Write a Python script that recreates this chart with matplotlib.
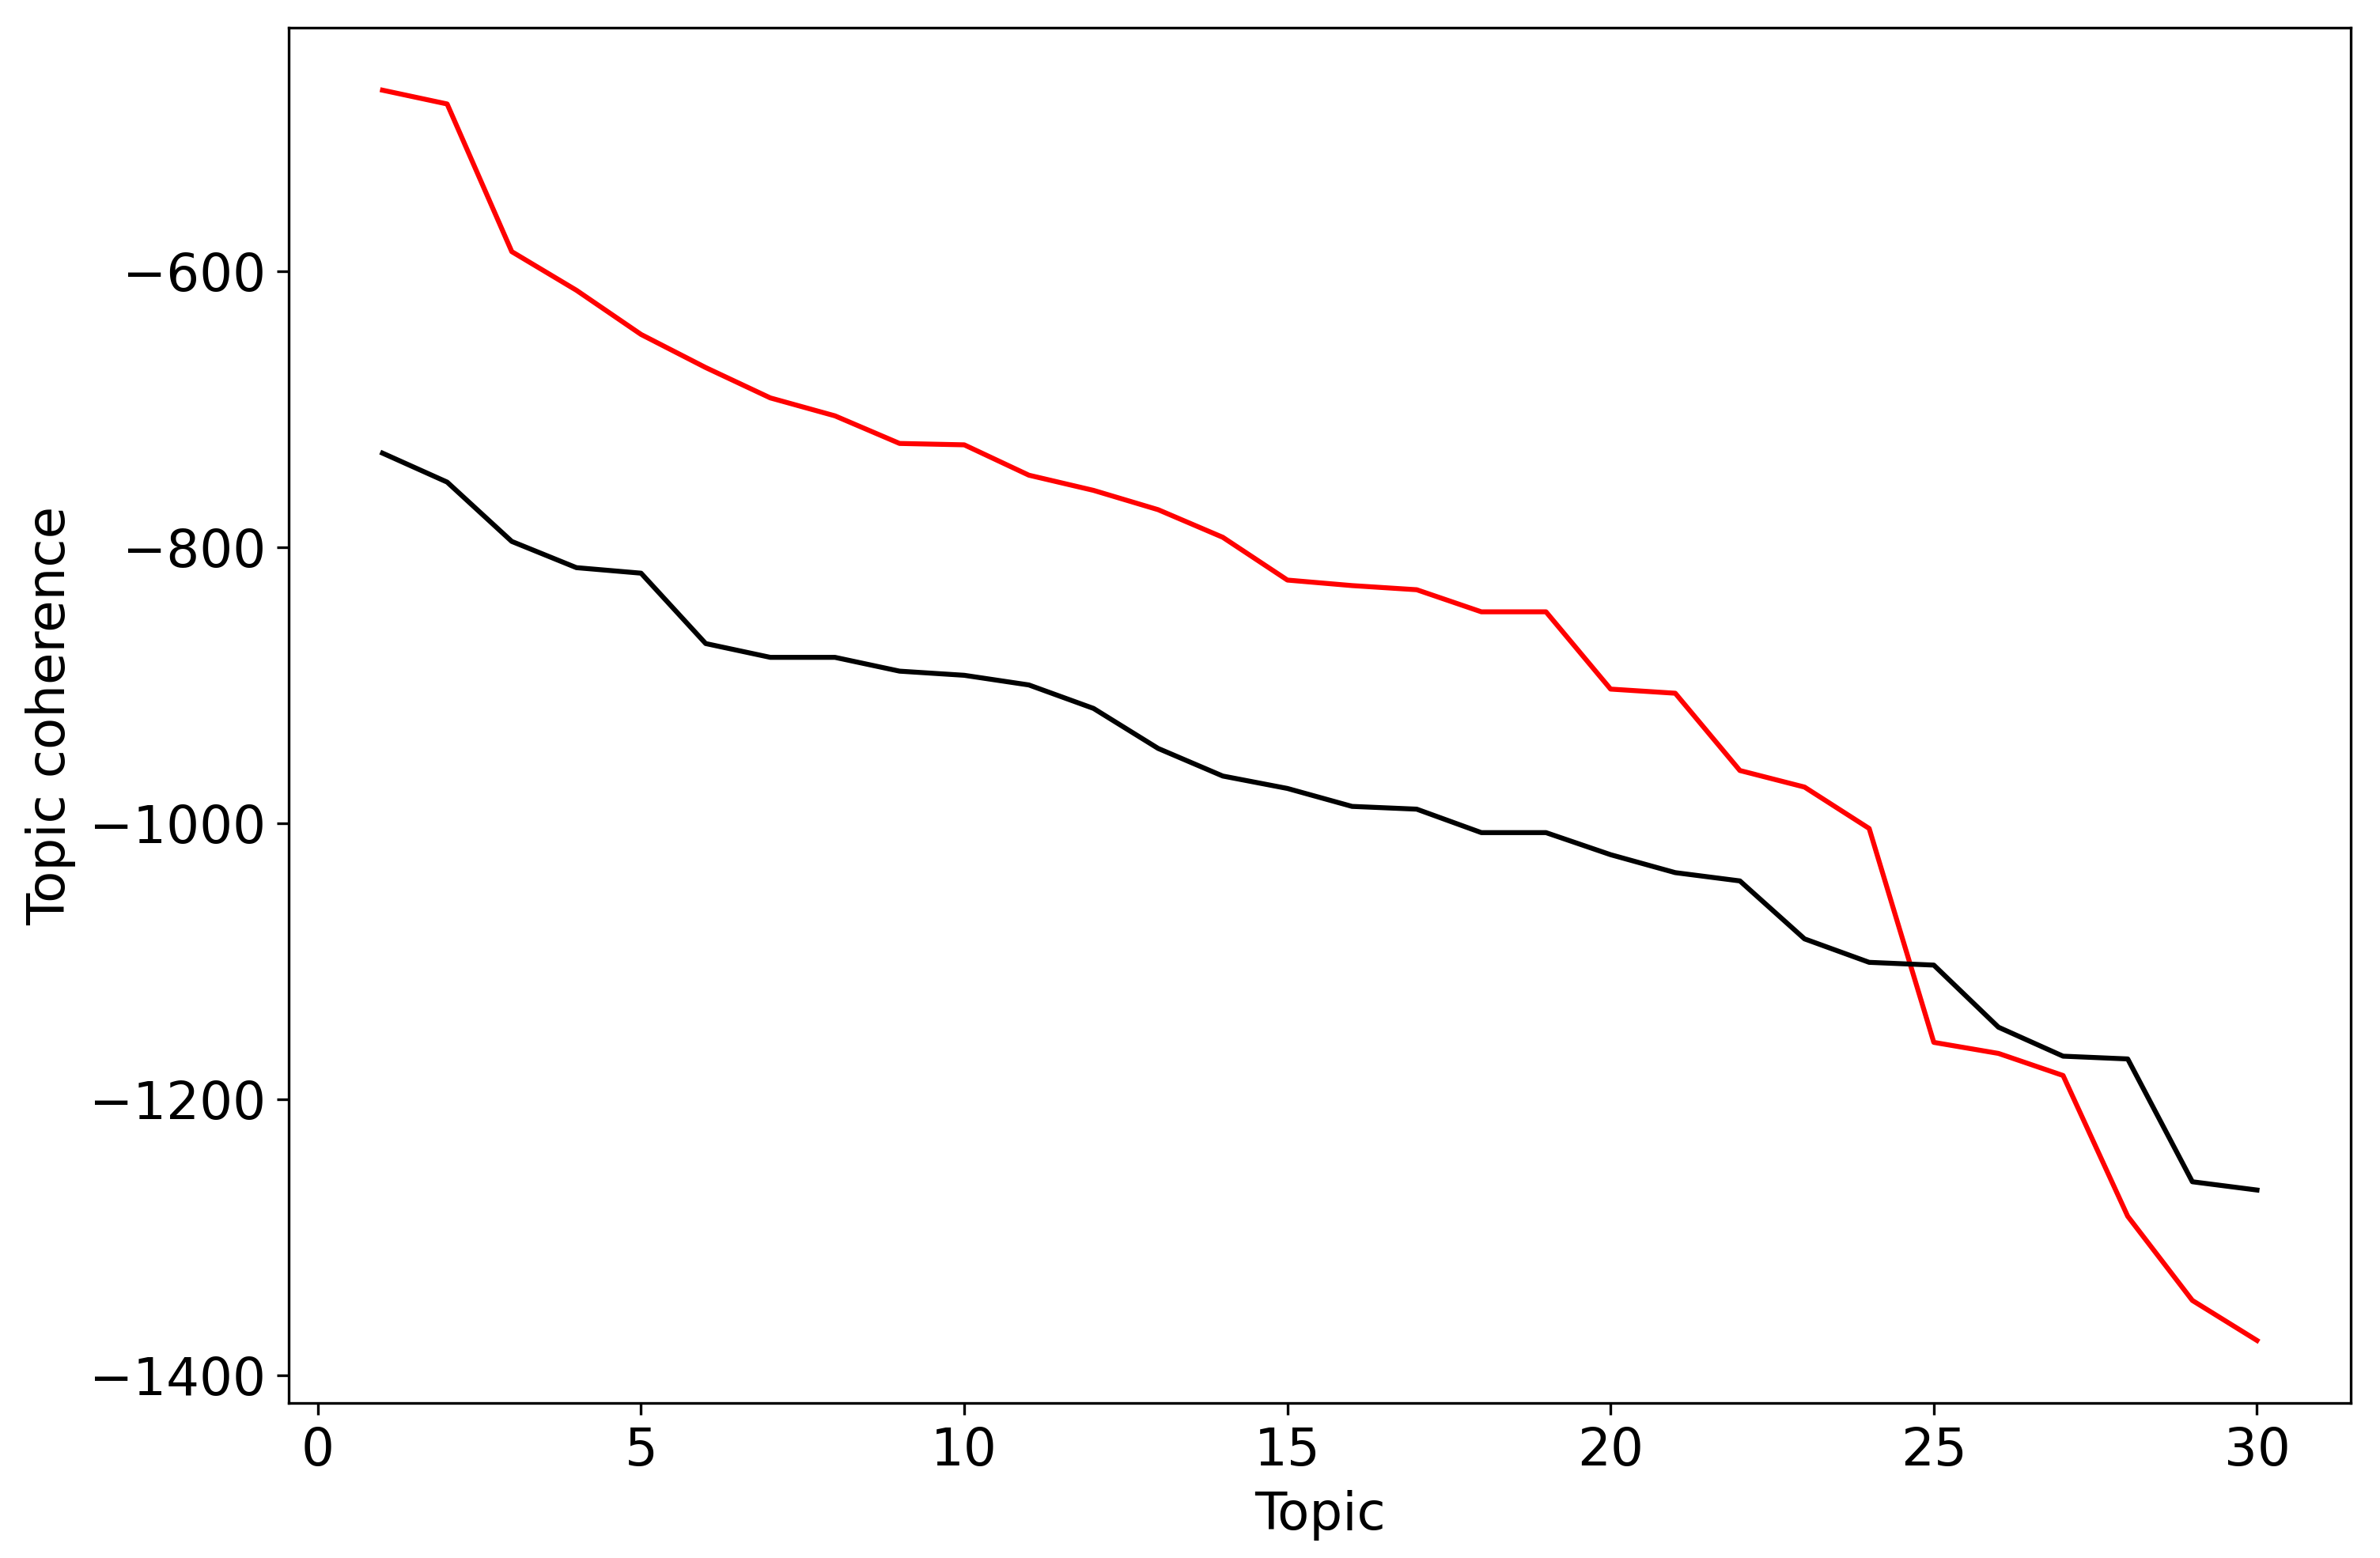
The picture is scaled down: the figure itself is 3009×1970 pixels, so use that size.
import numpy as np
import matplotlib
matplotlib.use("Agg")
import matplotlib.pyplot as plt

topics = np.arange(1, 31)

coherence_red = [-469, -479, -586, -614, -646, -670, -692, -705, -725, -726,
                 -748, -759, -773, -793, -824, -828, -831, -847, -847, -903,
                 -906, -962, -974, -1004, -1159, -1167, -1183, -1285, -1346, -1375]

coherence_black = [-732, -753, -796, -815, -819, -870, -880, -880, -890, -893,
                   -900, -917, -946, -966, -975, -988, -990, -1007, -1007, -1023,
                   -1036, -1042, -1084, -1101, -1103, -1148, -1169, -1171, -1260, -1266]

plt.rcParams["font.size"] = 15.8

fig = plt.figure(figsize=(10.033, 6.567), dpi=300)
ax = fig.add_axes([0.1213, 0.0995, 0.8661, 0.8827])

ax.plot(topics, coherence_red, color="red", linewidth=1.5)
ax.plot(topics, coherence_black, color="black", linewidth=1.5)

ax.set_xlabel("Topic")
ax.set_ylabel("Topic coherence")
ax.set_yticks([-600, -800, -1000, -1200, -1400])

fig.savefig("out.png", dpi=300)
